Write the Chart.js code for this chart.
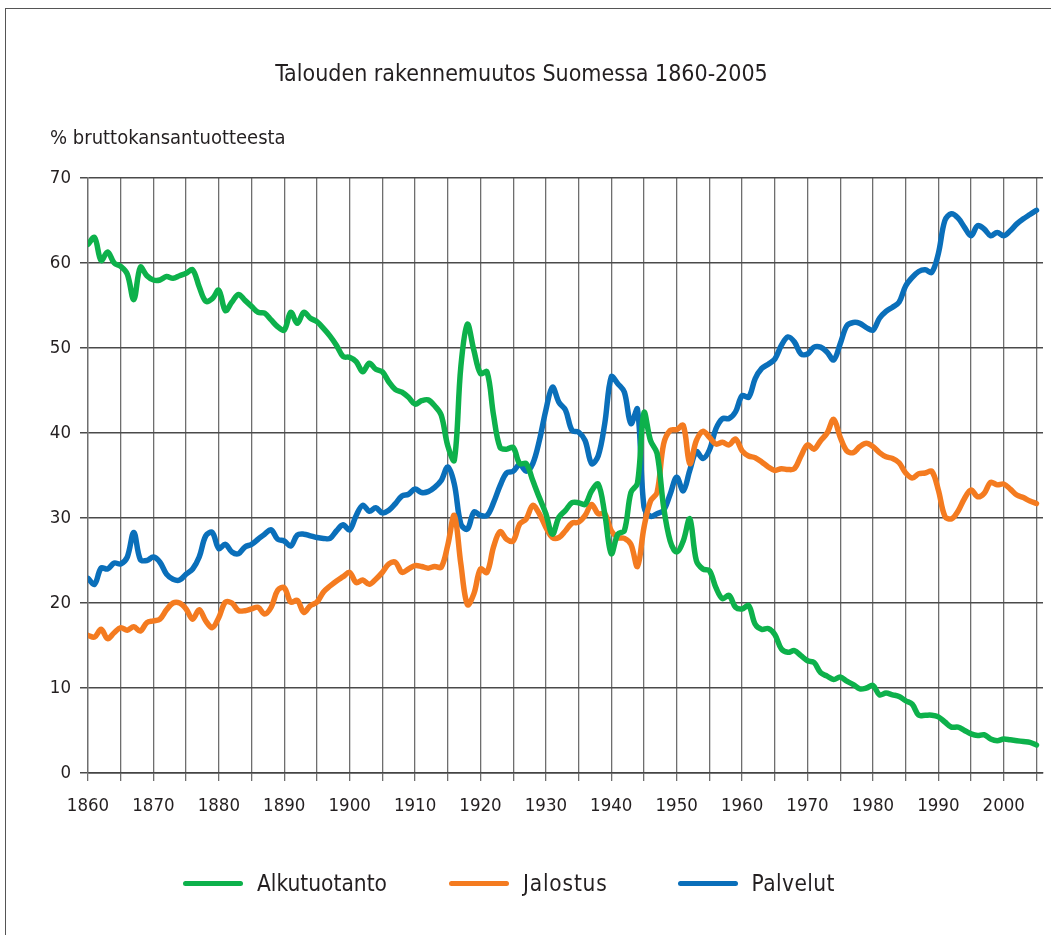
<!DOCTYPE html>
<html>
<head>
<meta charset="utf-8">
<title>Talouden rakennemuutos Suomessa 1860-2005</title>
<script src="https://cdn.jsdelivr.net/npm/chart.js@4/dist/chart.umd.min.js"></script>
<style>
  html, body { margin: 0; padding: 0; background: #fff; }
  #wrap { position: relative; width: 1051px; height: 935px; overflow: hidden; }
  #frame { position: absolute; left: 5px; top: 8px; width: 1100px; height: 1000px;
           border-top: 1.5px solid #555; border-left: 1.5px solid #555; }
  #chart { position: absolute; left: 0; top: 0; }
  #legend { position: absolute; left: 183px; top: 866px; height: 34px; display: flex; align-items: center; gap: 62px;
            font-family: 'Liberation Sans Narrow', 'DejaVu Sans Condensed', sans-serif; font-size: 22.5px; color: #231f20; }
  #legend .item { display: flex; align-items: center; }
  #legend .line { display: inline-block; width: 60px; height: 5px; border-radius: 3px; margin-right: 14px; }
  #legend .item:nth-child(2) .txt { letter-spacing: 0.8px; }
  #legend .item:nth-child(3) { margin-left: 8px; }
  #legend .item:nth-child(3) .txt { letter-spacing: 0.4px; }
</style>
</head>
<body>
<div id="wrap">
  <div id="frame"></div>
  <canvas id="chart" width="1051" height="935"></canvas>
  <div id="legend"></div>
</div>
<script>
// data (% of GDP), one value per year 1860-2005
const firstYear = 1860;
const lastYear = 2005;

const alkutuotanto = [
  62.2, 63.0, 60.3, 61.3, 60.0, 59.6, 58.7, 55.7, 59.5, 58.5,
  58.0, 58.0, 58.4, 58.2, 58.5, 58.8, 59.2, 57.2, 55.5, 55.8,
  56.8, 54.4, 55.4, 56.3, 55.6, 54.9, 54.2, 54.1, 53.3, 52.5,
  52.1, 54.2, 52.9, 54.2, 53.5, 53.1, 52.3, 51.4, 50.3, 49.0,
  48.9, 48.4, 47.2, 48.2, 47.5, 47.2, 46.0, 45.1, 44.8, 44.2,
  43.4, 43.8, 43.9, 43.2, 42.1, 38.5, 36.8, 47.8, 52.8, 49.7,
  47.0, 47.2, 42.1, 38.3, 38.1, 38.3, 36.4, 36.4, 34.4, 32.4,
  30.5, 28.1, 30.1, 30.9, 31.8, 31.8, 31.6, 33.2, 34.0, 30.5,
  25.8, 28.1, 28.5, 33.0, 34.1, 42.4, 39.1, 37.6, 31.3, 27.3,
  26.0, 27.3, 29.9, 25.0, 24.0, 23.8, 21.8, 20.5, 20.9, 19.5,
  19.3, 19.7, 17.5, 16.9, 17.0, 16.3, 14.6, 14.2, 14.4, 13.8,
  13.2, 13.0, 11.8, 11.4, 11.0, 11.3, 10.8, 10.4, 9.9, 10.0,
  10.3, 9.2, 9.4, 9.2, 9.0, 8.5, 8.1, 6.8, 6.8, 6.8,
  6.6, 6.0, 5.4, 5.4, 5.0, 4.6, 4.4, 4.5, 4.0, 3.8,
  4.0, 3.9, 3.8, 3.7, 3.6, 3.3
];

const jalostus = [
  16.2, 16.0, 16.9, 15.8, 16.5, 17.1, 16.8, 17.2, 16.7, 17.7,
  17.9, 18.1, 19.2, 20.0, 20.0, 19.3, 18.1, 19.2, 17.9, 17.1,
  18.3, 20.1, 20.0, 19.1, 19.1, 19.3, 19.5, 18.7, 19.5, 21.5,
  21.8, 20.1, 20.3, 18.9, 19.7, 20.1, 21.3, 22.0, 22.6, 23.1,
  23.6, 22.4, 22.7, 22.2, 22.8, 23.6, 24.6, 24.8, 23.6, 24.0,
  24.4, 24.3, 24.1, 24.3, 24.2, 26.8, 30.3, 24.6, 19.8, 21.1,
  24.0, 23.6, 26.6, 28.4, 27.5, 27.3, 29.3, 29.9, 31.5, 30.5,
  28.9, 27.7, 27.7, 28.5, 29.4, 29.5, 30.3, 31.6, 30.5, 30.5,
  28.5, 27.7, 27.6, 26.9, 24.3, 28.9, 32.0, 33.0, 38.7, 40.3,
  40.4, 40.9, 36.4, 39.1, 40.2, 39.5, 38.7, 38.9, 38.6, 39.3,
  37.9, 37.3, 37.1, 36.6, 36.0, 35.6, 35.8, 35.7, 35.8, 37.3,
  38.6, 38.1, 39.1, 40.0, 41.6, 39.5, 37.9, 37.7, 38.4, 38.8,
  38.4, 37.7, 37.2, 37.0, 36.5, 35.3, 34.7, 35.2, 35.3, 35.5,
  33.3, 30.2, 29.9, 30.8, 32.3, 33.3, 32.5, 32.9, 34.2, 33.9,
  34.0, 33.4, 32.7, 32.4, 32.0, 31.7
];

const palvelut = [
  22.9, 22.2, 24.1, 24.0, 24.7, 24.6, 25.4, 28.3, 25.1, 25.0,
  25.4, 24.8, 23.4, 22.8, 22.7, 23.4, 24.0, 25.4, 27.9, 28.3,
  26.4, 26.9, 26.0, 25.8, 26.6, 26.9, 27.5, 28.1, 28.6, 27.5,
  27.3, 26.7, 28.0, 28.1, 27.9, 27.7, 27.6, 27.6, 28.5, 29.2,
  28.6, 30.3, 31.5, 30.8, 31.2, 30.6, 30.9, 31.7, 32.6, 32.8,
  33.4, 33.0, 33.1, 33.6, 34.4, 36.0, 34.0, 29.3, 28.7, 30.7,
  30.3, 30.3, 31.8, 33.8, 35.3, 35.5, 36.3, 35.5, 36.4, 39.1,
  42.7, 45.4, 43.6, 42.7, 40.3, 40.1, 39.1, 36.4, 37.3, 41.1,
  46.6, 45.8, 44.8, 41.1, 42.8, 31.3, 30.2, 30.5, 30.9, 32.8,
  34.8, 33.2, 35.6, 37.8, 37.0, 38.0, 40.5, 41.7, 41.7, 42.5,
  44.4, 44.2, 46.4, 47.6, 48.1, 48.7, 50.3, 51.3, 50.7, 49.3,
  49.3, 50.1, 50.1, 49.5, 48.6, 50.5, 52.6, 53.0, 52.9, 52.4,
  52.1, 53.5, 54.3, 54.8, 55.4, 57.3, 58.3, 59.0, 59.2, 58.9,
  61.1, 65.0, 65.8, 65.3, 64.2, 63.2, 64.4, 64.0, 63.2, 63.6,
  63.2, 63.8, 64.6, 65.2, 65.7, 66.2
];

const seriesNames = ['Alkutuotanto', 'Jalostus', 'Palvelut'];
const seriesColors = ['#0db14b', '#f47b20', '#0a6fba'];
const chartTitle = 'Talouden rakennemuutos Suomessa 1860-2005';
const yCaption = '% bruttokansantuotteesta';

const fontFamily = "'Liberation Sans Narrow', 'DejaVu Sans Condensed', sans-serif";
const textColor = '#231f20';

const years = [];
for (let y = firstYear; y <= lastYear; y++) years.push(y);

function toPoints(values) {
  return values.map((v, i) => ({ x: years[i], y: v }));
}

function makeSet(i, values) {
  return {
    label: seriesNames[i],
    data: toPoints(values),
    borderColor: seriesColors[i],
    backgroundColor: seriesColors[i],
    borderWidth: 5.5,
    borderCapStyle: 'round',
    borderJoinStyle: 'round',
    pointRadius: 0,
    tension: 0.35,
    fill: false
  };
}

// y axis caption sits above the axis, horizontal
const captionPlugin = {
  id: 'caption',
  afterDraw(chart) {
    const ctx = chart.ctx;
    ctx.save();
    ctx.font = '20px ' + fontFamily;
    ctx.fillStyle = textColor;
    ctx.textBaseline = 'middle';
    ctx.textAlign = 'left';
    ctx.fillText(yCaption, 50, 139);
    ctx.restore();
  }
};

// legend built from the datasets, as html below the canvas
const htmlLegendPlugin = {
  id: 'htmlLegend',
  afterUpdate(chart) {
    const box = document.getElementById('legend');
    box.innerHTML = '';
    chart.data.datasets.forEach(ds => {
      const item = document.createElement('div');
      item.className = 'item';
      const line = document.createElement('span');
      line.className = 'line';
      line.style.background = ds.borderColor;
      const txt = document.createElement('span');
      txt.className = 'txt';
      txt.textContent = ds.label;
      item.append(line, txt);
      box.append(item);
    });
  }
};

new Chart(document.getElementById('chart'), {
  type: 'line',
  data: {
    datasets: [
      makeSet(0, alkutuotanto),
      makeSet(1, jalostus),
      makeSet(2, palvelut)
    ]
  },
  options: {
    responsive: false,
    animation: false,
    layout: { padding: { left: 0, right: 8, top: 0, bottom: 100 } },
    plugins: {
      legend: { display: false },
      tooltip: { enabled: false },
      title: {
        display: true,
        text: chartTitle,
        color: textColor,
        font: { family: fontFamily, size: 23, weight: 'normal' },
        padding: { top: 61.2, bottom: 89.2 }
      }
    },
    scales: {
      x: {
        type: 'linear',
        min: 1860,
        max: 2006,
        afterFit: s => { s.height = 62; },
        ticks: {
          stepSize: 5,
          includeBounds: false,
          autoSkip: false,
          maxRotation: 0,
          padding: 14,
          color: textColor,
          font: { family: fontFamily, size: 18.5 },
          callback: v => (v % 10 === 0 ? String(v) : '')
        },
        grid: { color: '#6e6e6e', lineWidth: 1.3, tickLength: 8 },
        border: { color: '#444', width: 1.5 }
      },
      y: {
        min: 0,
        max: 70,
        afterFit: s => { s.width = 88; },
        ticks: {
          stepSize: 10,
          padding: 9,
          color: textColor,
          font: { family: fontFamily, size: 18.5 }
        },
        grid: { color: '#4a4a4a', lineWidth: 1.5, tickLength: 8 },
        border: { color: '#6e6e6e', width: 1.3 }
      }
    }
  },
  plugins: [captionPlugin, htmlLegendPlugin]
});
</script>
</body>
</html>
